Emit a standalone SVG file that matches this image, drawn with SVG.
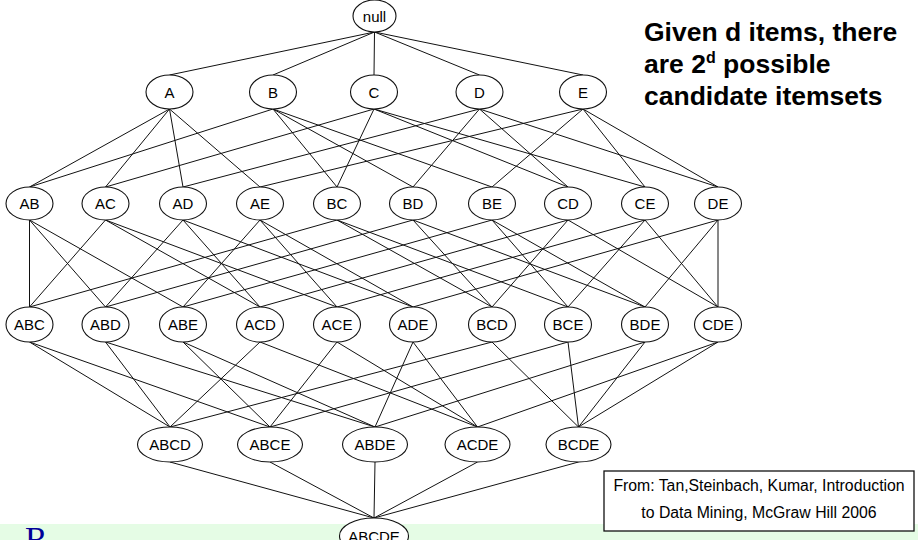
<svg xmlns="http://www.w3.org/2000/svg" width="918" height="540" viewBox="0 0 918 540">
<style>
.e{stroke:#111;stroke-width:1;fill:none}
.n ellipse{fill:#fff;stroke:#111;stroke-width:1.1}
.n text{font-family:"Liberation Sans",Arial,sans-serif;font-size:15px;text-anchor:middle;fill:#000}
.big{font-family:"Liberation Sans",Arial,sans-serif;font-size:26.5px;font-weight:bold;fill:#000}
.ref{font-family:"Liberation Sans",Arial,sans-serif;font-size:15.8px;text-anchor:middle;fill:#000}
</style>
<rect x="0" y="0" width="918" height="540" fill="#fff"/>
<rect x="0" y="524" width="918" height="16" fill="#E5FCE5"/>
<text x="25" y="550" font-family="Liberation Serif,'Times New Roman',serif" font-size="34" fill="#000099">R</text>
<g id="edges" class="e">
<path d="M374.5 32L169.5 75M374.5 32L273 75M374.5 32L374 75M374.5 32L479.5 75M374.5 32L583 75"/>
<path d="M169.5 109L29.5 187M169.5 109L105.5 187M169.5 109L183 187M169.5 109L260 187
M273 109L29.5 187M273 109L337 187M273 109L413 187M273 109L492 187
M374 109L105.5 187M374 109L337 187M374 109L568 187M374 109L645 187
M479.5 109L183 187M479.5 109L413 187M479.5 109L568 187M479.5 109L718 187
M583 109L260 187M583 109L492 187M583 109L645 187M583 109L718 187"/>
<path d="M29.5 220L29.5 307M29.5 220L105.5 307M29.5 220L183 307
M105.5 220L29.5 307M105.5 220L260 307M105.5 220L337 307
M183 220L105.5 307M183 220L260 307M183 220L413 307
M260 220L183 307M260 220L337 307M260 220L413 307
M337 220L29.5 307M337 220L492 307M337 220L568 307
M413 220L105.5 307M413 220L492 307M413 220L645 307
M492 220L183 307M492 220L568 307M492 220L645 307
M568 220L260 307M568 220L492 307M568 220L718 307
M645 220L337 307M645 220L568 307M645 220L718 307
M718 220L413 307M718 220L645 307M718 220L718 307"/>
<path d="M29.5 342L170 427M29.5 342L270 427
M105.5 342L170 427M105.5 342L375 427
M183 342L270 427M183 342L375 427
M260 342L170 427M260 342L477.5 427
M337 342L270 427M337 342L477.5 427
M413 342L375 427M413 342L477.5 427
M492 342L170 427M492 342L578.5 427
M568 342L270 427M568 342L578.5 427
M645 342L375 427M645 342L578.5 427
M718 342L477.5 427M718 342L578.5 427"/>
<path d="M170 462L374 518M270 462L374 518M375 462L374 518M477.5 462L374 518M578.5 462L374 518"/>
</g>
<g id="null" class="n"><ellipse cx="374.5" cy="16" rx="21.5" ry="16"/><text x="374.5" y="21.5">null</text></g>
<g id="A" class="n"><ellipse cx="169.5" cy="92" rx="23.5" ry="17"/><text x="169.5" y="97.5">A</text></g>
<g id="B" class="n"><ellipse cx="273" cy="92" rx="23.5" ry="17"/><text x="273" y="97.5">B</text></g>
<g id="C" class="n"><ellipse cx="374" cy="92" rx="23.5" ry="17"/><text x="374" y="97.5">C</text></g>
<g id="D" class="n"><ellipse cx="479.5" cy="92" rx="23.5" ry="17"/><text x="479.5" y="97.5">D</text></g>
<g id="E" class="n"><ellipse cx="583" cy="92" rx="23.5" ry="17"/><text x="583" y="97.5">E</text></g>
<g id="AB" class="n"><ellipse cx="29.5" cy="203.5" rx="23.5" ry="16.5"/><text x="29.5" y="209">AB</text></g>
<g id="AC" class="n"><ellipse cx="105.5" cy="203.5" rx="23.5" ry="16.5"/><text x="105.5" y="209">AC</text></g>
<g id="AD" class="n"><ellipse cx="183" cy="203.5" rx="23.5" ry="16.5"/><text x="183" y="209">AD</text></g>
<g id="AE" class="n"><ellipse cx="260" cy="203.5" rx="23.5" ry="16.5"/><text x="260" y="209">AE</text></g>
<g id="BC" class="n"><ellipse cx="337" cy="203.5" rx="23.5" ry="16.5"/><text x="337" y="209">BC</text></g>
<g id="BD" class="n"><ellipse cx="413" cy="203.5" rx="23.5" ry="16.5"/><text x="413" y="209">BD</text></g>
<g id="BE" class="n"><ellipse cx="492" cy="203.5" rx="23.5" ry="16.5"/><text x="492" y="209">BE</text></g>
<g id="CD" class="n"><ellipse cx="568" cy="203.5" rx="23.5" ry="16.5"/><text x="568" y="209">CD</text></g>
<g id="CE" class="n"><ellipse cx="645" cy="203.5" rx="23.5" ry="16.5"/><text x="645" y="209">CE</text></g>
<g id="DE" class="n"><ellipse cx="718" cy="203.5" rx="23.5" ry="16.5"/><text x="718" y="209">DE</text></g>
<g id="ABC" class="n"><ellipse cx="29.5" cy="324.5" rx="23.5" ry="17.5"/><text x="29.5" y="330">ABC</text></g>
<g id="ABD" class="n"><ellipse cx="105.5" cy="324.5" rx="23.5" ry="17.5"/><text x="105.5" y="330">ABD</text></g>
<g id="ABE" class="n"><ellipse cx="183" cy="324.5" rx="23.5" ry="17.5"/><text x="183" y="330">ABE</text></g>
<g id="ACD" class="n"><ellipse cx="260" cy="324.5" rx="23.5" ry="17.5"/><text x="260" y="330">ACD</text></g>
<g id="ACE" class="n"><ellipse cx="337" cy="324.5" rx="23.5" ry="17.5"/><text x="337" y="330">ACE</text></g>
<g id="ADE" class="n"><ellipse cx="413" cy="324.5" rx="23.5" ry="17.5"/><text x="413" y="330">ADE</text></g>
<g id="BCD" class="n"><ellipse cx="492" cy="324.5" rx="23.5" ry="17.5"/><text x="492" y="330">BCD</text></g>
<g id="BCE" class="n"><ellipse cx="568" cy="324.5" rx="23.5" ry="17.5"/><text x="568" y="330">BCE</text></g>
<g id="BDE" class="n"><ellipse cx="645" cy="324.5" rx="23.5" ry="17.5"/><text x="645" y="330">BDE</text></g>
<g id="CDE" class="n"><ellipse cx="718" cy="324.5" rx="23.5" ry="17.5"/><text x="718" y="330">CDE</text></g>
<g id="ABCD" class="n"><ellipse cx="170" cy="444.5" rx="32.5" ry="17.5"/><text x="170" y="450">ABCD</text></g>
<g id="ABCE" class="n"><ellipse cx="270" cy="444.5" rx="32.5" ry="17.5"/><text x="270" y="450">ABCE</text></g>
<g id="ABDE" class="n"><ellipse cx="375" cy="444.5" rx="32.5" ry="17.5"/><text x="375" y="450">ABDE</text></g>
<g id="ACDE" class="n"><ellipse cx="477.5" cy="444.5" rx="32.5" ry="17.5"/><text x="477.5" y="450">ACDE</text></g>
<g id="BCDE" class="n"><ellipse cx="578.5" cy="444.5" rx="32.5" ry="17.5"/><text x="578.5" y="450">BCDE</text></g>
<g id="ABCDE" class="n"><ellipse cx="374" cy="536" rx="34.5" ry="18"/><text x="374" y="541.5">ABCDE</text></g>
<g id="caption">
<text class="big" x="644" y="41">Given d items, there</text>
<text class="big" x="644" y="73">are 2<tspan font-size="16" dy="-10">d</tspan><tspan dy="10"> possible</tspan></text>
<text class="big" x="644" y="105">candidate itemsets</text>
</g>
<g id="source">
<rect x="604" y="471" width="310" height="60" fill="#fff" stroke="#111" stroke-width="1.3"/>
<text class="ref" x="759" y="491">From: Tan,Steinbach, Kumar, Introduction</text>
<text class="ref" x="759" y="518">to Data Mining, McGraw Hill 2006</text>
</g>
</svg>
